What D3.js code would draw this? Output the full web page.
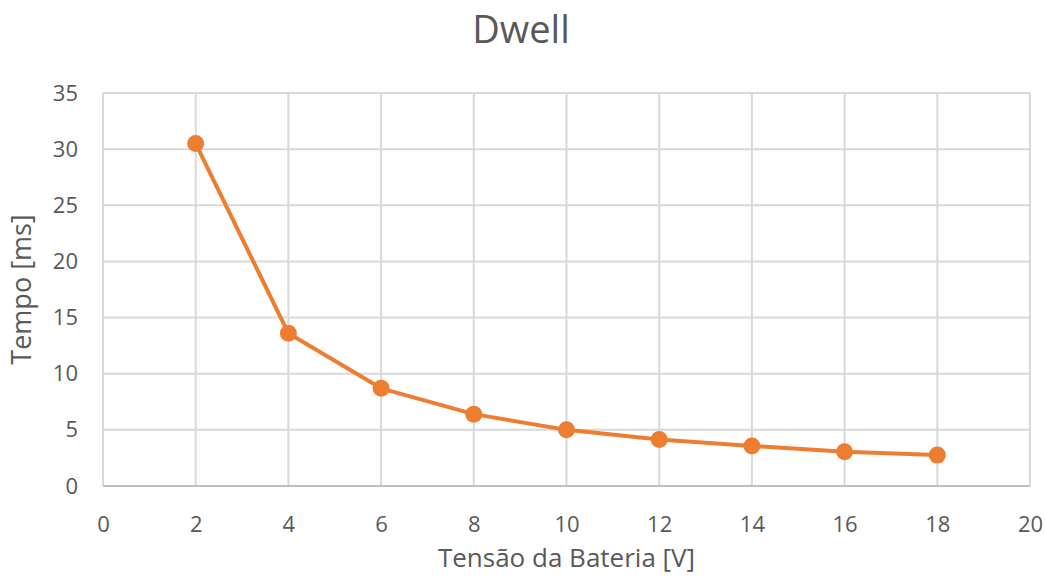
<!DOCTYPE html>
<html>
<head>
<meta charset="utf-8">
<script src="https://cdn.jsdelivr.net/npm/d3@7"></script>
<style>
  body { margin: 0; background: #fff; }
  text { font-family: "Open Sans", "Liberation Sans", sans-serif; fill: #595959; }
</style>
</head>
<body>
<div id="chart"></div>
<script>
// data
const tensao = [2, 4, 6, 8, 10, 12, 14, 16, 18];
const tempo = [30.5, 13.6, 8.7, 6.4, 5.0, 4.15, 3.57, 3.05, 2.75];
const xTicks = [0, 2, 4, 6, 8, 10, 12, 14, 16, 18, 20];
const yTicks = [0, 5, 10, 15, 20, 25, 30, 35];

let width = 1046,
    height = 581,
    margin = {top: 93, right: 16, bottom: 95, left: 103};

const svg = d3.select("#chart")
    .append("svg")
    .attr("width", width)
    .attr("height", height);

var x = d3.scaleLinear().domain([0, 20]).range([margin.left, width - margin.right]),
    y = d3.scaleLinear().domain([0, 35]).range([height - margin.bottom, margin.top]);

// gridlines
svg.append("g")
  .selectAll("line")
  .data(xTicks)
  .enter().append("line")
    .attr("x1", d => x(d)).attr("x2", d => x(d))
    .attr("y1", y(35)).attr("y2", y(0))
    .attr("stroke", "#d9d9d9")
    .attr("stroke-width", 2);

svg.append("g")
  .selectAll("line")
  .data(yTicks)
  .enter().append("line")
    .attr("x1", x(0)).attr("x2", x(20))
    .attr("y1", d => y(d)).attr("y2", d => y(d))
    .attr("stroke", d => d === 0 ? "#bfbfbf" : "#d9d9d9")
    .attr("stroke-width", 2);

// axes (labels only)
var xAxis = svg.append("g")
    .attr("transform", "translate(0," + y(0) + ")")
    .call(d3.axisBottom(x).tickValues(xTicks).tickSize(0).tickPadding(30));
xAxis.select(".domain").remove();
xAxis.selectAll("text").style("font-size", "22px").attr("fill", "#595959");

var yAxis = svg.append("g")
    .attr("transform", "translate(" + (x(0) - 25) + ",0)")
    .call(d3.axisLeft(y).tickValues(yTicks).tickSize(0).tickPadding(0));
yAxis.select(".domain").remove();
yAxis.selectAll("text").style("font-size", "22px").attr("fill", "#595959");

// line + markers
var pts = tensao.map((v, i) => [v, tempo[i]]);

svg.append("path")
    .datum(pts)
    .attr("fill", "none")
    .attr("stroke", "#ED7D31")
    .attr("stroke-width", 4)
    .attr("stroke-linejoin", "round")
    .attr("d", d3.line().x(d => x(d[0])).y(d => y(d[1])));

svg.append("g")
  .selectAll("circle")
  .data(pts)
  .enter().append("circle")
    .attr("cx", d => x(d[0]))
    .attr("cy", d => y(d[1]))
    .attr("r", 8.5)
    .attr("fill", "#ED7D31");

// titles
svg.append("text")
    .attr("x", 521)
    .attr("y", 43)
    .attr("text-anchor", "middle")
    .style("font-size", "38px")
    .text("Dwell");

svg.append("text")
    .attr("x", (x(0) + x(20)) / 2)
    .attr("y", 567)
    .attr("text-anchor", "middle")
    .style("font-size", "26px")
    .text("Tensão da Bateria [V]");

svg.append("text")
    .attr("transform", "translate(31," + (y(17.5)) + ") rotate(-90)")
    .attr("text-anchor", "middle")
    .style("font-size", "27px")
    .text("Tempo [ms]");
</script>
</body>
</html>
